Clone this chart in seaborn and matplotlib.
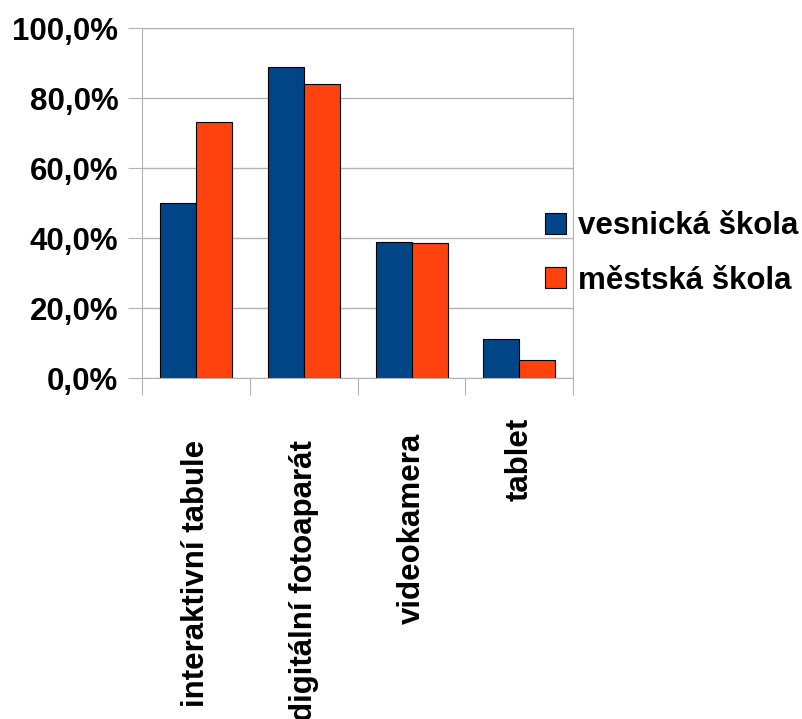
import matplotlib
matplotlib.use("Agg")
import matplotlib.pyplot as plt
import seaborn as sns
import pandas as pd

# Equipment categories and shares (%) per school type
categories = ["interaktivní tabule", "digitální fotoaparát", "videokamera", "tablet"]
series_names = ["vesnická škola", "městská škola"]
vesnicka = [50.0, 89.0, 38.9, 11.1]
mestska = [73.3, 84.1, 38.8, 5.2]
y_ticks = [0, 20, 40, 60, 80, 100]
y_tick_labels = ["0,0%", "20,0%", "40,0%", "60,0%", "80,0%", "100,0%"]

df = pd.DataFrame({
    "kategorie": categories * 2,
    "skola": [series_names[0]] * len(categories) + [series_names[1]] * len(categories),
    "podil": vesnicka + mestska,
})

sns.set_style("white")
plt.rcParams["font.family"] = ["Liberation Sans", "DejaVu Sans"]
plt.rcParams["font.weight"] = "bold"
plt.rcParams["text.color"] = "black"
plt.rcParams["xtick.labelcolor"] = "black"
plt.rcParams["ytick.labelcolor"] = "black"

FS = 22.5
GRID = "#b3b3b3"

fig = plt.figure(figsize=(8.03, 7.19), dpi=100)
ax = fig.add_axes([0.1768, 0.4738, 0.714 - 0.1768, 0.9606 - 0.4738])

sns.barplot(
    data=df, x="kategorie", y="podil", hue="skola",
    order=categories, hue_order=series_names,
    palette=["#004586", "#ff420e"], width=0.667, gap=0,
    edgecolor="black", linewidth=0.8, saturation=1, ax=ax, legend=True,
)

ax.set_xlim(-0.5, len(categories) - 0.5)
ax.set_ylim(0, 100)
ax.set_xlabel("")
ax.set_ylabel("")

# Y axis: comma-decimal percentage labels with gray grid
ax.set_yticks(y_ticks)
ax.set_yticklabels(y_tick_labels, fontsize=FS, fontweight="bold", color="black")
ax.yaxis.grid(True, color=GRID, linewidth=1)
ax.set_axisbelow(True)
ax.tick_params(axis="y", length=10, width=0.8, color=GRID, pad=7, direction="out", left=True)

# X axis: ticks at category boundaries, labels drawn separately below
ax.set_xticks([i - 0.5 for i in range(len(categories) + 1)])
ax.set_xticklabels([])
ax.tick_params(axis="x", length=12, width=0.8, color=GRID, direction="out", bottom=True)

for s in ax.spines.values():
    s.set_color(GRID)
    s.set_linewidth(0.8)

label_offsets = [44.6, 44.6, 38.9, 28.1]
for i, (cat, off) in enumerate(zip(categories, label_offsets)):
    ax.annotate(
        cat, xy=(i, 0), xycoords=("data", "axes fraction"),
        xytext=(0, -off), textcoords="offset points",
        rotation=90, ha="center", va="top", color="black",
        fontsize=FS, fontweight="bold", annotation_clip=False,
    )

handles, labels = ax.get_legend_handles_labels()
ax.legend_.remove()
leg = fig.legend(
    handles, labels, loc="center left", bbox_to_anchor=(0.679, 0.6475),
    frameon=False, prop={"weight": "bold", "size": FS},
    handlelength=0.65, handleheight=0.65, handletextpad=0.39,
    labelspacing=0.78, borderpad=0, borderaxespad=0,
)
for t in leg.get_texts():
    t.set_color("black")

fig.savefig("out.png", dpi=100)
